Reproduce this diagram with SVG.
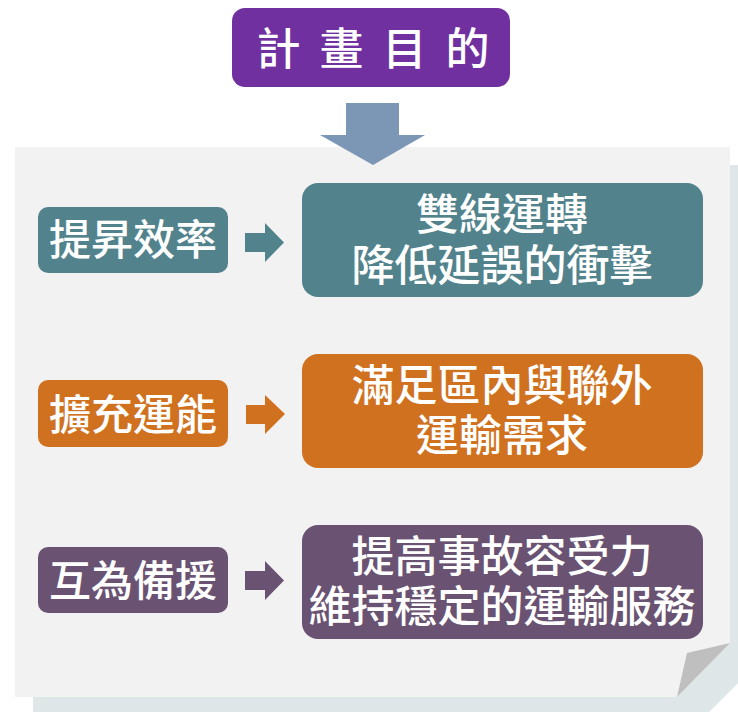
<svg xmlns="http://www.w3.org/2000/svg" width="738" height="712" viewBox="0 0 738 712">
  <style>
    .t { font-family: "Noto Sans CJK TC", "Noto Sans CJK SC", sans-serif; font-weight: 500; fill: #FFFFFF; text-anchor: middle; }
    .big { font-size: 43px; }
    .small { font-size: 42px; }
    .teal { fill: #52838D; }
    .orange { fill: #D0711F; }
    .plum { fill: #6A5372; }
  </style>
  <rect x="0" y="0" width="738" height="712" fill="#FFFFFF"/>
  <!-- background panel -->
  <g id="panel">
    <polygon points="33,165 748,165 748,673 709,712 33,712" fill="#DFE6E8"/>
    <polygon points="15,147 730,147 730,643 677,697 15,697" fill="#F2F2F2"/>
    <polygon points="687,653 730,643 677,697" fill="#BFBFBF"/>
  </g>
  <!-- title -->
  <g id="title">
    <rect x="232" y="8" width="278" height="79" rx="13" fill="#7030A0"/>
    <text class="t" x="373" y="65" font-size="44" textLength="233" lengthAdjust="spacing">計 畫 目 的</text>
  </g>
  <g id="connectors">
    <polygon points="346,103 399,103 399,135 425,135 373,165 320,135 346,135" fill="#7B97B5"/>
    <polygon class="teal" points="245,233 265,233 265,223 284,242.5 265,262 265,252 245,252"/>
    <polygon class="orange" points="246,405 265,405 265,395 285,414 265,434 265,424 246,424"/>
    <polygon class="plum" points="245,571 265,571 265,561 284,580.5 265,600 265,590 245,590"/>
  </g>
  <!-- row 1 -->
  <g id="n1-left">
    <rect class="teal" x="38" y="207" width="190" height="66" rx="10"/>
    <text class="t small" x="133" y="255">提昇效率</text>
  </g>
  <g id="n1-right">
    <rect class="teal" x="302" y="183" width="401" height="114" rx="16"/>
    <text class="t big" x="502" y="230">雙線運轉</text>
    <text class="t big" x="502" y="281">降低延誤的衝擊</text>
  </g>
  <!-- row 2 -->
  <g id="n2-left">
    <rect class="orange" x="38" y="380" width="190" height="67" rx="10"/>
    <text class="t small" x="133" y="430">擴充運能</text>
  </g>
  <g id="n2-right">
    <rect class="orange" x="302" y="354" width="401" height="114" rx="16"/>
    <text class="t big" x="502" y="401">滿足區內與聯外</text>
    <text class="t big" x="502" y="451">運輸需求</text>
  </g>
  <!-- row 3 -->
  <g id="n3-left">
    <rect class="plum" x="38" y="547" width="190" height="66" rx="10"/>
    <text class="t small" x="133" y="596">互為備援</text>
  </g>
  <g id="n3-right">
    <rect class="plum" x="302" y="525" width="401" height="114" rx="16"/>
    <text class="t big" x="502" y="572">提高事故容受力</text>
    <text class="t big" x="502" y="622">維持穩定的運輸服務</text>
  </g>
</svg>
